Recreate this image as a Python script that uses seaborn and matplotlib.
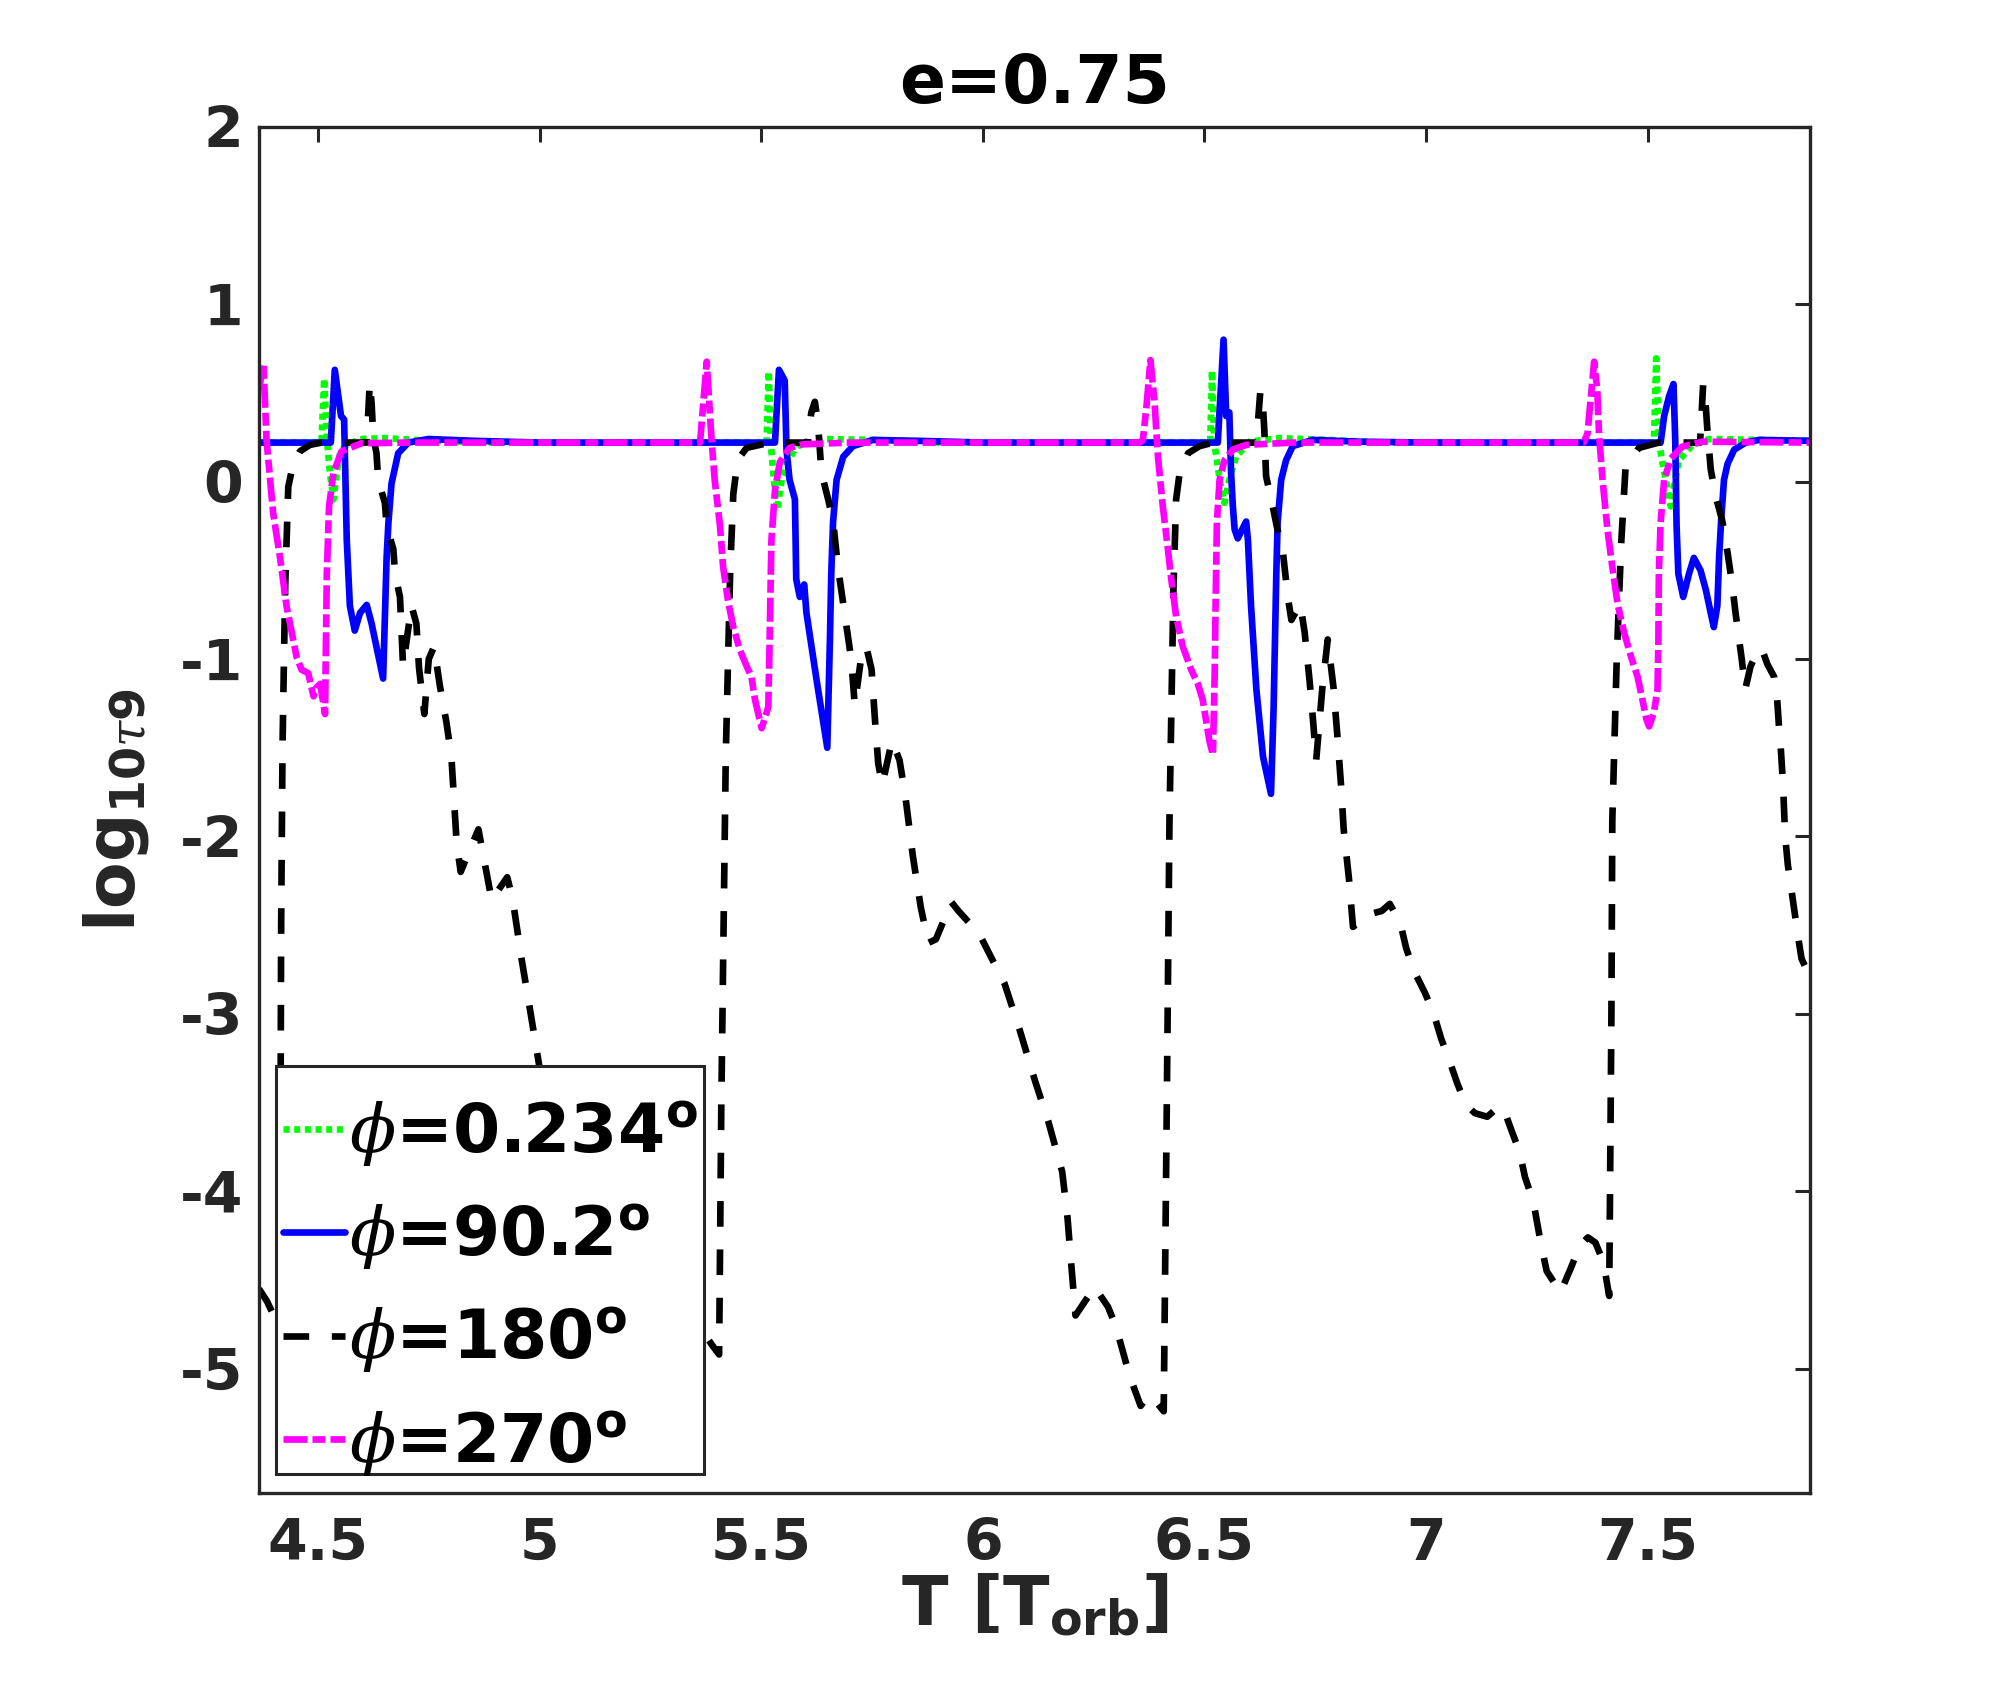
import matplotlib
matplotlib.use("Agg")
import matplotlib.pyplot as plt
from matplotlib.patches import Rectangle
import seaborn as sns
import pandas as pd
import numpy as np

# ---------------- data ----------------
# phi = 0.234 deg (green, dotted)
t_phi0 = [4.367, 4.508, 4.514, 4.520, 4.527, 4.535, 4.542, 4.550, 4.565, 4.600, 4.650, 4.750, 4.900,
          5.512, 5.517, 5.522, 5.529, 5.536, 5.546, 5.557, 5.580, 5.640, 5.750, 5.900,
          6.513, 6.517, 6.522, 6.535, 6.545, 6.556, 6.571, 6.602, 6.669, 6.780, 6.900,
          7.514, 7.519, 7.525, 7.530, 7.545, 7.552, 7.559, 7.570, 7.600, 7.638, 7.750, 7.866]
y_phi0 = [0.22, 0.22, 0.58, 0.25, 0.05, -0.10, 0.05, 0.16, 0.21, 0.24, 0.245, 0.23, 0.22,
          0.22, 0.62, 0.20, 0.00, -0.16, 0.01, 0.10, 0.20, 0.24, 0.235, 0.22,
          0.22, 0.625, 0.22, 0.00, -0.12, 0.01, 0.14, 0.225, 0.245, 0.235, 0.22,
          0.22, 0.695, 0.25, 0.15, -0.05, -0.14, -0.03, 0.12, 0.205, 0.24, 0.235, 0.23]

# phi = 90.2 deg (blue, solid)
t_phi90 = [4.367, 4.529, 4.538, 4.552, 4.559, 4.565, 4.572, 4.583, 4.595, 4.610, 4.621, 4.647, 4.655,
           4.659, 4.666, 4.681, 4.704, 4.749, 4.850, 5.000,
           5.531, 5.540, 5.553, 5.557, 5.564, 5.576, 5.579, 5.587, 5.597, 5.602, 5.625, 5.649, 5.655,
           5.658, 5.662, 5.670, 5.685, 5.707, 5.752, 5.850, 6.000,
           6.530, 6.543, 6.549, 6.556, 6.560, 6.564, 6.568, 6.575, 6.594, 6.598, 6.605, 6.617, 6.632,
           6.650, 6.656, 6.662, 6.665, 6.673, 6.684, 6.699, 6.744, 6.850, 7.000,
           7.529, 7.537, 7.548, 7.558, 7.562, 7.565, 7.569, 7.580, 7.593, 7.604, 7.619, 7.631, 7.642,
           7.649, 7.657, 7.661, 7.666, 7.672, 7.680, 7.695, 7.721, 7.751, 7.866]
y_phi90 = [0.22, 0.22, 0.63, 0.37, 0.35, -0.33, -0.70, -0.84, -0.74, -0.695, -0.80, -1.11, -0.42,
           -0.23, -0.01, 0.16, 0.22, 0.24, 0.23, 0.22,
           0.22, 0.63, 0.57, 0.18, 0.01, -0.10, -0.55, -0.65, -0.58, -0.74, -1.12, -1.50, -0.89,
           -0.52, -0.23, 0.01, 0.14, 0.20, 0.235, 0.23, 0.22,
           0.22, 0.80, 0.37, 0.39, 0.05, -0.14, -0.27, -0.32, -0.225, -0.33, -0.70, -1.17, -1.55,
           -1.76, -1.27, -0.52, -0.23, 0.01, 0.12, 0.20, 0.235, 0.225, 0.22,
           0.22, 0.37, 0.48, 0.55, 0.235, -0.25, -0.52, -0.65, -0.52, -0.43, -0.50, -0.61, -0.74,
           -0.82, -0.70, -0.42, -0.20, 0.01, 0.10, 0.18, 0.22, 0.235, 0.23]

# phi = 180 deg (black, dashed)
t_phi180 = [4.367, 4.385, 4.400, 4.414, 4.417, 4.420, 4.426, 4.433, 4.444, 4.459, 4.482, 4.508, 4.610,
            4.617, 4.621, 4.625, 4.632, 4.636, 4.651, 4.655, 4.670, 4.674, 4.685, 4.692, 4.711, 4.722,
            4.728, 4.740, 4.750, 4.762, 4.775, 4.790, 4.801, 4.813, 4.822, 4.835, 4.862, 4.892, 4.905,
            4.927, 4.939, 4.960, 4.980, 5.003, 5.050, 5.100, 5.150, 5.200, 5.250, 5.300, 5.352, 5.390,
            5.405, 5.410, 5.415, 5.420, 5.430, 5.437, 5.444, 5.452, 5.467, 5.520, 5.605,
            5.613, 5.621, 5.628, 5.636, 5.651, 5.662, 5.673, 5.688, 5.703, 5.711, 5.725, 5.737, 5.749,
            5.756, 5.764, 5.773, 5.795, 5.812, 5.825, 5.842, 5.860, 5.877, 5.894, 5.929, 5.945, 5.992,
            6.049, 6.083, 6.118, 6.148, 6.179, 6.191, 6.200, 6.209, 6.252, 6.282, 6.300, 6.331, 6.356,
            6.374, 6.395, 6.408, 6.415, 6.421, 6.430, 6.436, 6.444, 6.463, 6.489, 6.520, 6.617,
            6.626, 6.632, 6.635, 6.639, 6.654, 6.662, 6.677, 6.688, 6.696, 6.716, 6.726, 6.737, 6.745,
            6.752, 6.766, 6.778, 6.791, 6.800, 6.808, 6.814, 6.826, 6.835, 6.870, 6.900, 6.918, 6.942,
            6.955, 6.973, 6.997, 7.016, 7.034, 7.052, 7.070, 7.089, 7.110, 7.138, 7.165, 7.177, 7.193,
            7.211, 7.223, 7.242, 7.260, 7.272, 7.303, 7.327, 7.346, 7.365, 7.382, 7.400, 7.413,
            7.418, 7.420, 7.430, 7.440, 7.450, 7.480, 7.525, 7.618,
            7.625, 7.631, 7.634, 7.642, 7.653, 7.668, 7.680, 7.691, 7.698, 7.706, 7.712, 7.720, 7.732,
            7.747, 7.757, 7.770, 7.785, 7.792, 7.796, 7.800, 7.805, 7.810, 7.816, 7.840, 7.847, 7.866]
y_phi180 = [-4.55, -4.62, -4.70, -4.76, -2.50, -1.50, -0.60, -0.03, 0.10, 0.17, 0.207, 0.22, 0.22,
            0.56, 0.44, 0.25, 0.16, 0.01, -0.12, -0.25, -0.38, -0.52, -0.65, -1.04, -0.70, -0.80,
            -1.05, -1.31, -1.00, -0.93, -1.15, -1.36, -1.55, -2.04, -2.20, -2.12, -1.96, -2.36, -2.31,
            -2.23, -2.35, -2.70, -3.00, -3.35, -3.60, -3.85, -4.05, -4.25, -4.45, -4.60, -4.73, -4.87,
            -4.92, -3.50, -2.50, -1.55, -0.50, -0.07, 0.066, 0.14, 0.19, 0.22, 0.22,
            0.39, 0.45, 0.33, 0.05, -0.10, -0.22, -0.48, -0.74, -1.00, -1.26, -1.00, -0.93, -1.06,
            -1.32, -1.59, -1.71, -1.46, -1.57, -1.77, -2.11, -2.40, -2.60, -2.58, -2.37, -2.42, -2.55,
            -2.83, -3.09, -3.38, -3.61, -3.89, -4.15, -4.43, -4.70, -4.54, -4.65, -4.76, -5.04, -5.21,
            -5.15, -5.20, -5.24, -3.50, -1.91, -0.60, -0.10, 0.05, 0.16, 0.20, 0.22, 0.22,
            0.51, 0.42, 0.29, 0.03, -0.14, -0.24, -0.40, -0.65, -0.78, -0.69, -0.85, -1.12, -1.35,
            -1.57, -1.16, -0.89, -1.16, -1.44, -1.71, -1.96, -2.24, -2.51, -2.44, -2.42, -2.38, -2.49,
            -2.63, -2.76, -2.88, -2.99, -3.14, -3.26, -3.39, -3.51, -3.56, -3.58, -3.52, -3.55, -3.66,
            -3.78, -3.92, -4.06, -4.31, -4.45, -4.57, -4.43, -4.31, -4.26, -4.29, -4.40, -4.59,
            -3.00, -1.91, -1.00, -0.35, 0.085, 0.19, 0.22, 0.22,
            0.55, 0.42, 0.31, 0.07, -0.08, -0.22, -0.40, -0.59, -0.74, -0.89, -1.00, -1.17, -1.04,
            -0.96, -0.94, -1.03, -1.10, -1.23, -1.38, -1.50, -1.70, -2.00, -2.16, -2.58, -2.69, -2.79]

# phi = 270 deg (magenta, dash-dot)
t_phi270 = [4.367, 4.377, 4.384, 4.399, 4.414, 4.429, 4.452, 4.463, 4.478, 4.490, 4.497, 4.505, 4.516,
            4.520, 4.525, 4.535, 4.553, 4.598, 4.700, 5.362,
            5.377, 5.388, 5.395, 5.407, 5.414, 5.425, 5.437, 5.452, 5.467, 5.478, 5.486, 5.501, 5.516,
            5.519, 5.523, 5.531, 5.542, 5.564, 5.594, 5.700, 6.354,
            6.361, 6.369, 6.378, 6.387, 6.395, 6.406, 6.417, 6.425, 6.436, 6.451, 6.470, 6.485, 6.496,
            6.511, 6.519, 6.523, 6.525, 6.528, 6.534, 6.545, 6.564, 6.594, 6.700, 7.355,
            7.364, 7.379, 7.386, 7.390, 7.398, 7.409, 7.420, 7.432, 7.447, 7.462, 7.477, 7.488, 7.497,
            7.503, 7.514, 7.522, 7.524, 7.525, 7.529, 7.537, 7.552, 7.578, 7.623, 7.866]
y_phi270 = [0.52, 0.667, 0.235, -0.18, -0.42, -0.70, -0.99, -1.06, -1.08, -1.21, -1.16, -1.14, -1.31,
            -0.52, -0.14, 0.05, 0.17, 0.216, 0.22, 0.22,
            0.676, 0.235, 0.01, -0.25, -0.48, -0.67, -0.82, -0.95, -1.04, -1.10, -1.23, -1.39, -1.27,
            -0.89, -0.33, -0.05, 0.11, 0.19, 0.21, 0.22, 0.22,
            0.235, 0.42, 0.685, 0.46, 0.14, -0.14, -0.37, -0.55, -0.76, -0.93, -1.06, -1.14, -1.23,
            -1.46, -1.54, -1.08, -0.70, -0.23, 0.01, 0.12, 0.18, 0.207, 0.22, 0.22,
            0.27, 0.676, 0.52, 0.27, 0.01, -0.27, -0.48, -0.69, -0.855, -0.985, -1.10, -1.23, -1.34,
            -1.38, -1.30, -1.17, -0.89, -0.52, -0.23, 0.01, 0.13, 0.197, 0.225, 0.22]

series_labels = [r'$\phi$=0.234$^{\mathbf{o}}$', r'$\phi$=90.2$^{\mathbf{o}}$',
                 r'$\phi$=180$^{\mathbf{o}}$', r'$\phi$=270$^{\mathbf{o}}$']
xtick_values = [4.5, 5, 5.5, 6, 6.5, 7, 7.5]
xtick_labels = ['4.5', '5', '5.5', '6', '6.5', '7', '7.5']
ytick_values = [-5, -4, -3, -2, -1, 0, 1, 2]
ytick_labels = ['-5', '-4', '-3', '-2', '-1', '0', '1', '2']
title_text = 'e=0.75'
xlabel_text = r'T [T$_{\mathbf{orb}}$]'
ylabel_text = r'$\mathbf{log}_{\mathbf{10}\tau\mathbf{9}}$'

# ---------------- style ----------------
sns.set_style("white")
plt.rcParams['font.family'] = ['DejaVu Sans']
plt.rcParams['mathtext.fontset'] = 'custom'
plt.rcParams['mathtext.rm'] = 'DejaVu Sans'
plt.rcParams['mathtext.sf'] = 'DejaVu Sans'
plt.rcParams['mathtext.bf'] = 'DejaVu Sans:style=normal:weight=bold'
plt.rcParams['mathtext.it'] = 'DejaVu Serif:style=italic:weight=normal'
plt.rcParams['axes.unicode_minus'] = False

DARK = '#262626'
LW = 2.4
styles = [
    ('#00ff00', (0, (0.9, 0.7))),
    ('#0000ff', '-'),
    ('#000000', (0, (3.85, 3.4))),
    ('#ff00ff', (0, (3.6, 0.75, 1.95, 0.75))),
]
series_data = [(t_phi0, y_phi0), (t_phi90, y_phi90), (t_phi180, y_phi180), (t_phi270, y_phi270)]

fig = plt.figure(figsize=(10, 8.44), dpi=200)
ax = fig.add_axes([0.1295, 0.1156, 0.7755, 0.8093])

for (t, y), (col, ls), lab in zip(series_data, styles, series_labels):
    df = pd.DataFrame({'T': t, 'logtau': y})
    sns.lineplot(data=df, x='T', y='logtau', ax=ax, color=col, linestyle=ls,
                 sort=False, estimator=None, errorbar=None, legend=False)

lines = ax.get_lines()
for line, lab, (col, ls) in zip(lines, series_labels, styles):
    line.set_label(lab)
    line.set_linewidth(LW)
    line.set_linestyle(ls)
    line.set_dash_capstyle('butt')
    line.set_solid_joinstyle('round')

ax.set_xlim(4.367, 7.866)
ax.set_ylim(-5.7, 2)
ax.set_xticks(xtick_values)
ax.set_xticklabels(xtick_labels)
ax.set_yticks(ytick_values)
ax.set_yticklabels(ytick_labels)

for sp in ax.spines.values():
    sp.set_visible(True)
    sp.set_color(DARK)
    sp.set_linewidth(1.2)

ax.tick_params(axis='both', which='both', direction='in', length=5.4, width=1.1,
               color=DARK, labelcolor=DARK, labelsize=20.5, top=True, right=True)
ax.tick_params(axis='x', pad=8.8)
ax.tick_params(axis='y', pad=5.6)
for lbl in ax.get_xticklabels() + ax.get_yticklabels():
    lbl.set_fontweight('bold')

ax.set_title(title_text, fontsize=24.5, fontweight='bold', color='black', pad=8.7)
ax.set_xlabel(xlabel_text, fontsize=24.5, fontweight='bold', color=DARK, labelpad=0)
ax.set_ylabel(ylabel_text, fontsize=24.5, fontweight='bold', color=DARK, labelpad=10.5)

# legend box (opaque, square corners) and frameless legend contents on top of it
ax.add_patch(Rectangle((0.01064, 0.0139), 0.276, 0.2987, transform=ax.transAxes,
                       facecolor='white', edgecolor=DARK, lw=1.1, zorder=4.9, clip_on=False))
leg = ax.legend(handles=lines, labels=series_labels, loc='lower left',
                bbox_to_anchor=(0.0152, 0.0105), borderaxespad=0,
                frameon=False, prop={'weight': 'bold', 'size': 24.5}, handlelength=0.92,
                handletextpad=0.05, borderpad=0.0, labelspacing=0.5)
leg.set_zorder(5)
for txt in leg.get_texts():
    txt.set_color('black')

fig.savefig('out.png', dpi=200, facecolor='white')
